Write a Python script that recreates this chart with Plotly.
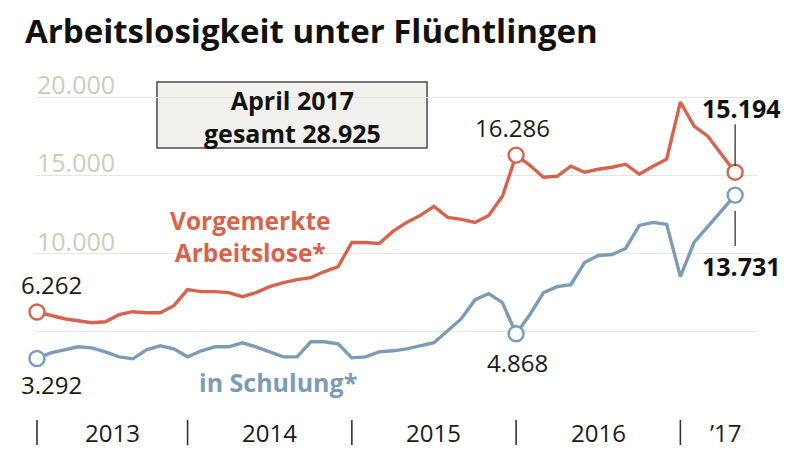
import plotly.graph_objects as go

# ---- data ----
years_list = [2013, 2014, 2015, 2016, 2017]
months = [f"{y}-{m:02d}" for y in years_list for m in range(1, 13)][:52]  # Jan 2013 .. Apr 2017

arbeitslose = [6262, 6025, 5833, 5705, 5577, 5641, 6090, 6282, 6218, 6218, 6666, 7692,
               7564, 7564, 7500, 7243, 7500, 7884, 8141, 8333, 8461, 8846, 9166, 10705,
               10705, 10641, 11410, 11987, 12435, 13012, 12307, 12179, 11987, 12435, 13653, 16286,
               15640, 14871, 14935, 15576, 15192, 15384, 15512, 15705, 15064, 15576, 16025, 19679,
               18140, 17500, 16346, 15194]
schulung = [3292, 3654, 3846, 4038, 3974, 3718, 3397, 3269, 3846, 4102, 3910, 3397,
            3782, 4038, 4038, 4295, 4038, 3718, 3397, 3397, 4359, 4359, 4231, 3333,
            3397, 3718, 3782, 3910, 4102, 4295, 5064, 5833, 7051, 7436, 6859, 4868,
            6090, 7500, 7884, 8013, 9423, 9871, 9936, 10320, 11794, 11987, 11859, 8525,
            10705, 11730, 12756, 13731]

year_labels = ["2013", "2014", "2015", "2016", "\u201917"]
separator_months = ["2013-01", "2013-12", "2014-12", "2015-12", "2016-12"]
y_ticks = [0, 5000, 10000, 15000, 20000]
y_labelled = [10000, 15000, 20000]
box_lines = ["April 2017", "gesamt 28.925"]
title_text = "Arbeitslosigkeit unter Flüchtlingen"

RED = "#d6644d"
BLUE = "#7b9cb8"
FONT = "Open Sans"

# page offset (browser body margin)
OFF = 8
W, H = 800 - OFF, 452 - OFF
ML, MR, MT, MB = 35 - OFF, 42, 60 - OFF, 42
PW, PH = W - ML - MR, H - MT - MB


def px(xp):  # target-picture pixel -> paper x
    return (xp - OFF - ML) / PW


def py(yp):  # target-picture pixel -> paper y
    return 1 - (yp - OFF - MT) / PH


def de(v):
    return f"{v:,}".replace(",", ".")


x = list(range(len(months)))
fig = go.Figure()
for vals, col in [(arbeitslose, RED), (schulung, BLUE)]:
    fig.add_trace(go.Scatter(x=x, y=vals, mode="lines", line=dict(color=col, width=3.4),
                             hoverinfo="text", text=[f"{m}: {de(v)}" for m, v in zip(months, vals)]))

hl = [0, 35, len(x) - 1]
for vals, col in [(arbeitslose, RED), (schulung, BLUE)]:
    fig.add_trace(go.Scatter(x=hl, y=[vals[i] for i in hl], mode="markers", cliponaxis=False,
                             marker=dict(symbol="circle", size=15, color="white",
                                         line=dict(color=col, width=2.4)),
                             hoverinfo="skip"))

ann = []
for v in y_labelled:
    ann.append(dict(x=0, xref="paper", xanchor="left", y=v, yref="y", yanchor="middle", yshift=13,
                    text=de(v), showarrow=False, font=dict(family=FONT, size=25, color="#cfcabb")))

sep_idx = [months.index(m) for m in separator_months]
bounds = sep_idx + [53.6]
shapes = []
for i, lab in enumerate(year_labels):
    c = (bounds[i] + bounds[i + 1]) / 2
    ann.append(dict(x=c, y=py(432), xref="x", yref="paper", yanchor="middle", xanchor="center",
                    text=lab, showarrow=False, font=dict(family=FONT, size=24, color="#1a1a1a")))
for s in sep_idx:
    shapes.append(dict(type="line", xref="x", yref="paper", x0=s, x1=s, y0=py(420), y1=py(445),
                       line=dict(color="#333333", width=1.6)))

lbl_font = dict(family=FONT, size=24, color="#1a1a1a")
bold_font = dict(family=FONT, size=25, color="#111111")


def ptxt(xp, yp, text, font):
    return dict(x=px(xp), y=py(yp), xref="paper", yref="paper", xanchor="center", yanchor="middle",
                text=text, showarrow=False, font=font)


ann += [
    dict(x=0, y=arbeitslose[0], text=de(arbeitslose[0]), xshift=14, yshift=28, showarrow=False, font=lbl_font),
    dict(x=0, y=schulung[0], text=de(schulung[0]), xshift=14, yshift=-26, showarrow=False, font=lbl_font),
    dict(x=35, y=arbeitslose[35], text=de(arbeitslose[35]), xshift=-4, yshift=28, showarrow=False, font=lbl_font),
    dict(x=35, y=schulung[35], text=de(schulung[35]), xshift=1, yshift=-29, showarrow=False, font=lbl_font),
    dict(x=51, y=arbeitslose[51], text="<b>" + de(arbeitslose[51]) + "</b>", xshift=6, yshift=64,
         showarrow=False, font=bold_font),
    dict(x=51, y=schulung[51], text="<b>" + de(schulung[51]) + "</b>", xshift=6, yshift=-71,
         showarrow=False, font=bold_font),
    ptxt(250, 237, "<b>Vorgemerkte<br>Arbeitslose*</b>", dict(family=FONT, size=24.5, color=RED)),
    ptxt(278, 382, "<b>in Schulung*</b>", dict(family=FONT, size=25, color=BLUE)),
    ptxt(292, 116, "<b>" + "<br>".join(box_lines) + "</b>", dict(family=FONT, size=25, color="#111111")),
]
shapes.insert(0, dict(type="rect", xref="paper", yref="paper", x0=px(157), x1=px(427),
                      y0=py(148), y1=py(82), fillcolor="#f3f1ed", layer="below",
                      line=dict(color="#4a4a4a", width=1.5)))
shapes.append(dict(type="line", xref="x", yref="y", x0=51, x1=51, ysizemode="pixel",
                   yanchor=arbeitslose[51], y0=6, y1=48, line=dict(color="#333333", width=1.3)))
shapes.append(dict(type="line", xref="x", yref="y", x0=51, x1=51, ysizemode="pixel",
                   yanchor=schulung[51], y0=-16, y1=-51, line=dict(color="#333333", width=1.3)))

fig.update_layout(
    width=W, height=H,
    margin=dict(l=ML, r=MR, t=MT, b=MB),
    paper_bgcolor="white", plot_bgcolor="white",
    showlegend=False,
    title=dict(text="<b>" + title_text + "</b>", xref="container", x=(25 - OFF) / W,
               xanchor="left", yref="container", y=1 - (31 - OFF) / H, yanchor="middle",
               font=dict(family="Open Sans", size=33, color="#111111")),
    xaxis=dict(range=[-0.146, 52.67], showgrid=False, zeroline=False, showticklabels=False,
               showline=False, ticks=""),
    yaxis=dict(range=[0, 22364], tickvals=y_ticks, showticklabels=False, showgrid=True,
               gridcolor="#e8e5e0", gridwidth=1.2, zeroline=False, showline=False, ticks=""),
    annotations=ann, shapes=shapes,
)
fig.write_html("out.html")
